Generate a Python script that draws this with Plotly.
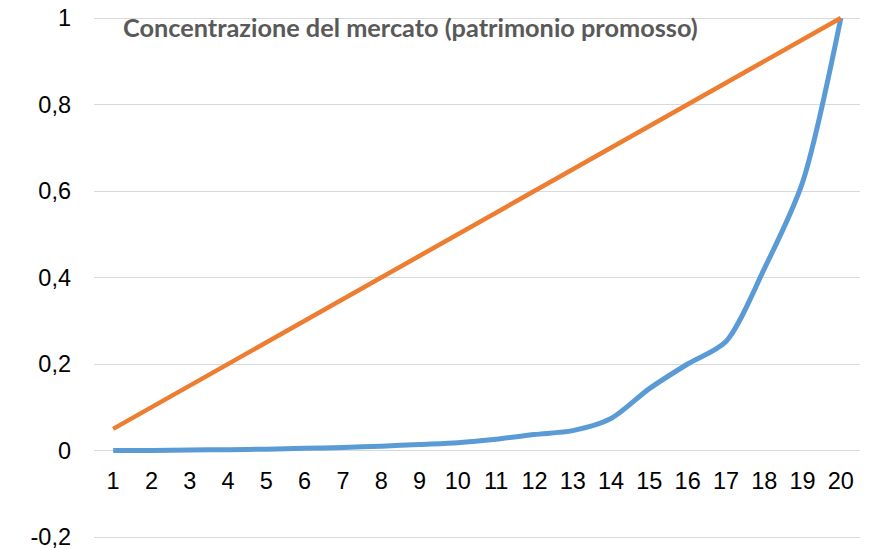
import plotly.graph_objects as go

categories = list(range(1, 21))
concentrazione = [0, 0, 0.001, 0.002, 0.003, 0.005, 0.007, 0.010, 0.014, 0.018,
                  0.026, 0.037, 0.046, 0.074, 0.143, 0.200, 0.252, 0.420, 0.620, 1.0]
equidistribuzione = [0.05, 0.10, 0.15, 0.20, 0.25, 0.30, 0.35, 0.40, 0.45, 0.50,
                     0.55, 0.60, 0.65, 0.70, 0.75, 0.80, 0.85, 0.90, 0.95, 1.0]
y_tickvals = [-0.2, 0, 0.2, 0.4, 0.6, 0.8, 1]
y_ticktext = ["-0,2", "0", "0,2", "0,4", "0,6", "0,8", "1"]
title_text = "Concentrazione del mercato (patrimonio promosso)"

fig = go.Figure()
fig.add_trace(go.Scatter(x=categories, y=concentrazione, mode="lines",
                         line=dict(color="#5B9BD5", width=5, shape="spline", smoothing=0.8),
                         showlegend=False, hoverinfo="skip"))
fig.add_trace(go.Scatter(x=categories, y=equidistribuzione, mode="lines",
                         line=dict(color="#ED7D31", width=4.5),
                         showlegend=False, hoverinfo="skip"))

# small padding so the grid lines at 1 and -0,2 are not clipped at the plot edges
pad_units = 2 / 432.5
y_lo, y_hi = -0.2 - pad_units, 1 + pad_units
zero_pos = (0 - y_lo) / (y_hi - y_lo)
tick_font = dict(family="Liberation Sans", size=23.5, color="#000000")

W, H = 874, 549
m_l, m_r, m_t, m_b = 94, 14, 16, 10
plot_h = H - m_t - m_b
plot_w = W - m_l - m_r

fig.update_layout(
    width=W, height=H,
    autosize=False,
    margin=dict(l=m_l, r=m_r, t=m_t, b=m_b, pad=0),
    paper_bgcolor="white", plot_bgcolor="white",
    font=dict(family="Liberation Sans", size=23.5, color="#000000"),
    xaxis=dict(range=[0.5, 20.5], tickvals=categories, ticktext=[str(c) for c in categories],
               showgrid=False, zeroline=False, showline=False, ticks="",
               anchor="free", position=zero_pos, tickfont=tick_font,
               ticklabelstandoff=14, automargin=False, ticklabeloverflow="allow"),
    yaxis=dict(range=[y_lo, y_hi], tickvals=y_tickvals, ticktext=y_ticktext,
               showgrid=True, gridcolor="#D9D9D9", gridwidth=1.3, zeroline=False,
               showline=False, ticks="", ticklabelstandoff=22,
               tickfont=tick_font, automargin=False, ticklabeloverflow="allow"),
    annotations=[dict(text="<b>" + title_text + "</b>", xref="paper", yref="paper",
                      x=(121 - m_l) / plot_w, y=1 - (27 - m_t) / plot_h,
                      xanchor="left", yanchor="middle", showarrow=False,
                      font=dict(family="Lato", size=25.3, color="#595959"))],
)

fig.write_html("out.html",
               config={"displayModeBar": False},
               post_script="document.body.style.margin='0';document.body.style.padding='0';")
